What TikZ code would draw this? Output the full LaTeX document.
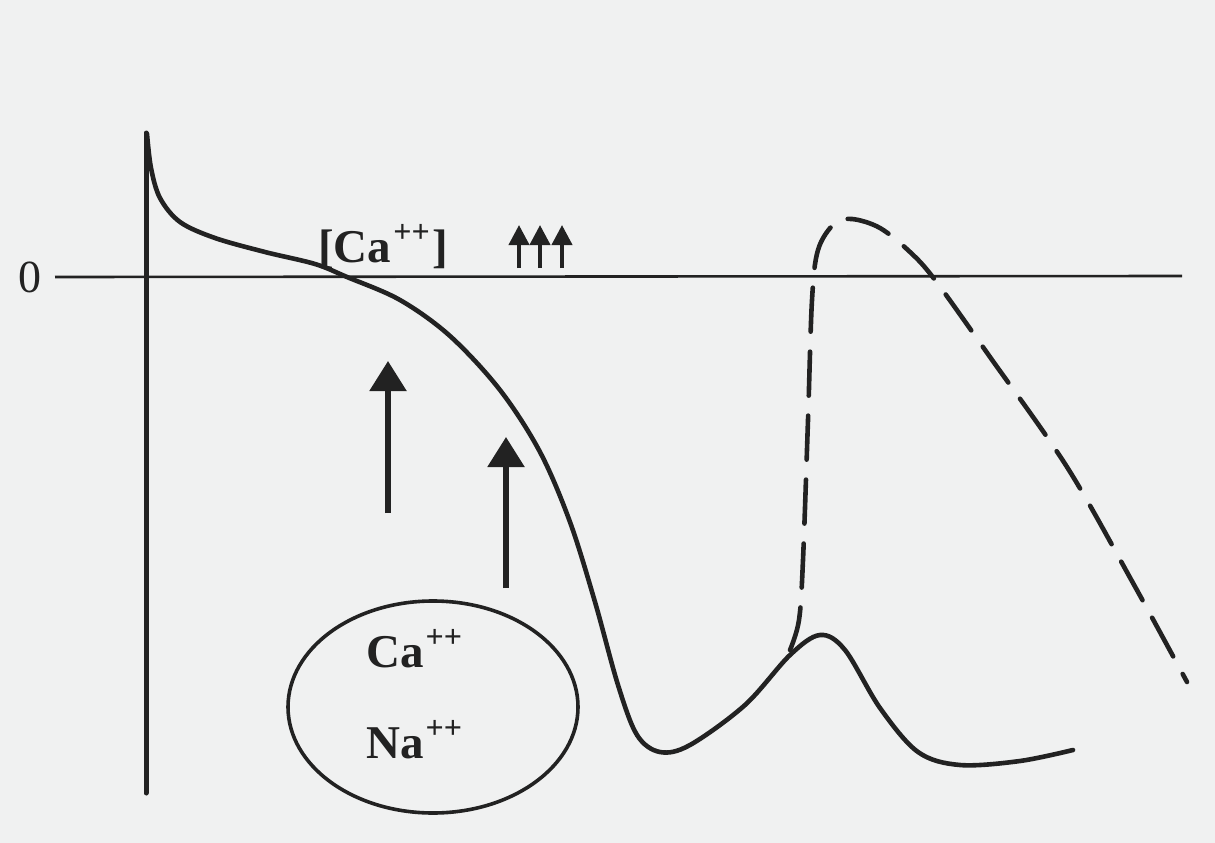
\documentclass[tikz,border=0pt]{standalone}
\usepackage{fontspec}
\setmainfont{Liberation Serif}
\usetikzlibrary{arrows.meta}
\definecolor{paper}{HTML}{F0F1F1}
\definecolor{ink}{HTML}{222222}
\tikzset{
  curveline/.style={draw=ink, line width=4.6pt, line cap=round, line join=round},
  dashline/.style={curveline, dash pattern=on 44pt off 20pt},
  bigarrow/.style={draw=ink, line width=5.5pt, -{Triangle[length=30pt,width=36pt]}},
  smallarrow/.style={draw=ink, line width=4pt, -{Triangle[length=20pt,width=20pt]}},
  lbl/.style={font=\fontsize{47}{54}\selectfont\bfseries, text=ink, inner sep=0pt},
}
\newcommand{\pp}{\kern2pt\raisebox{0.42em}{\fontsize{32}{36}\selectfont ++}}
\begin{document}
\begin{tikzpicture}[x=1pt,y=-1pt]
\fill[paper] (0,0) rectangle (1215,843);
\useasboundingbox (0,0) rectangle (1215,843);
% axis
\node[font=\fontsize{46}{50}\selectfont, text=ink, inner sep=0pt, anchor=base] (zero) at (30,292) {0};
\coordinate (axL) at (55,277);
\coordinate (axR) at (1182,276);
\draw[ink, line width=2.6pt] (axL) -- (axR);
% vertical stimulus line
\coordinate (vtop) at (146,133);
\coordinate (vbot) at (146,793);
\draw[curveline, line width=5pt] (vbot) -- (vtop);
% main curve
\draw[curveline] plot[smooth, tension=0.55] coordinates {
 (147,134) (151,168) (160,198) (180,222) (215,238) (265,252) (315,264) (347,277)
 (400,300) (450,336) (500,390) (540,452) (570,522) (595,602) (618,685)
 (637,735) (660,752) (690,745) (745,705) (790,655) (820,635) (845,650)
 (880,708) (918,752) (960,765) (1020,761) (1073,750)};
% dashed curve
\draw[dashline] plot[smooth, tension=0.55] coordinates {
 (790,650) (799,620) (803,560) (808,420) (812,300) (818,250) (834,224) (852,219)
 (880,228) (910,252) (935,280) (990,357) (1067,467) (1133,583) (1187,682)};
% small arrows
\foreach \x/\n in {519/a1,540/a2,562/a3}{
  \coordinate (\n b) at (\x,268);
  \coordinate (\n t) at (\x,225);
  \draw[smallarrow] (\n b) -- (\n t);
}
\node[lbl, anchor=base west] (ca) at (318,262) {[Ca\pp\kern3pt]};
% big arrows
\coordinate (b1s) at (388,513);
\coordinate (b1t) at (388,361);
\coordinate (b2s) at (506,588);
\coordinate (b2t) at (506,437);
\draw[bigarrow] (b1s) -- (b1t);
\draw[bigarrow] (b2s) -- (b2t);
% ellipse
\draw[ink, line width=3.6pt] (433,707) ellipse [x radius=145, y radius=106];
\node[lbl, anchor=base west] (ca2) at (366,667) {Ca\pp};
\node[lbl, anchor=base west] (na) at (366,758) {Na\pp};
\end{tikzpicture}
\end{document}
